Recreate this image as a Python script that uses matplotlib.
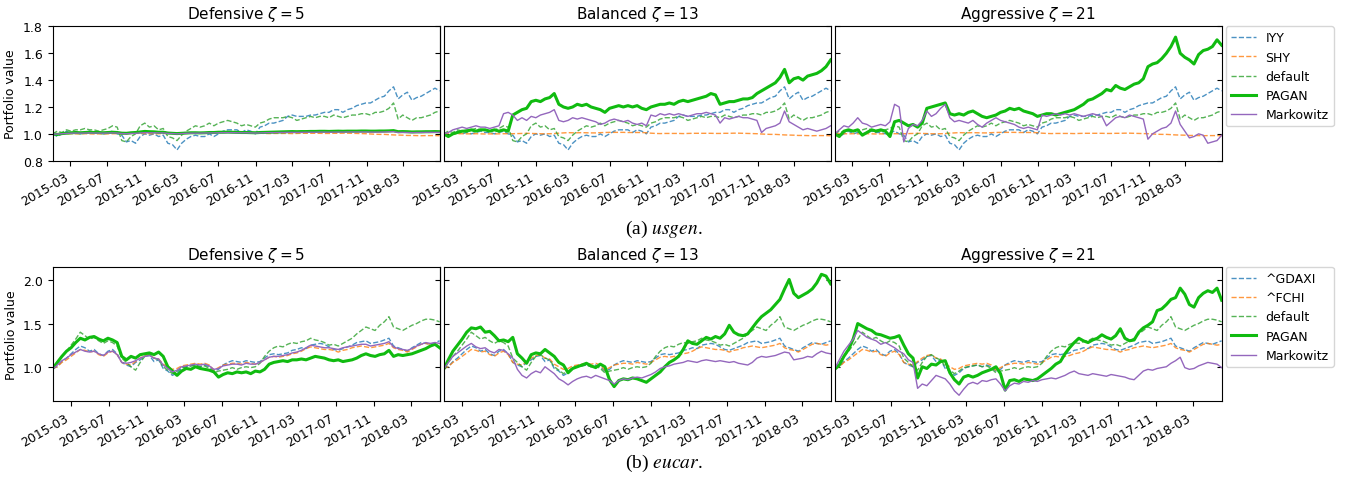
import matplotlib
matplotlib.use('Agg')
import matplotlib.pyplot as plt
import matplotlib.dates as mdates
import numpy as np
import pandas as pd

# ---- usgen (top row) ----
dates_us = pd.date_range('2015-01-02', '2018-06-29', periods=85)

iyy = [1.00, 0.98, 1.00, 1.02, 1.00, 1.01, 1.00, 1.01, 1.02, 1.01,
       1.01, 1.00, 1.01, 1.02, 1.00, 0.99, 0.94, 0.95, 0.93, 0.98,
       1.00, 0.99, 1.00, 0.98, 0.99, 0.93, 0.92, 0.88, 0.93, 0.96,
       0.98, 0.99, 0.98, 0.98, 1.00, 0.98, 1.00, 1.02, 1.03, 1.03,
       1.03, 1.01, 1.03, 1.02, 1.00, 1.05, 1.06, 1.08, 1.08, 1.09,
       1.10, 1.13, 1.14, 1.13, 1.13, 1.13, 1.14, 1.14, 1.15, 1.16,
       1.16, 1.18, 1.18, 1.16, 1.18, 1.19, 1.21, 1.22, 1.23, 1.23,
       1.25, 1.27, 1.28, 1.32, 1.35, 1.26, 1.29, 1.31, 1.25, 1.27,
       1.28, 1.30, 1.32, 1.34, 1.32]
shy = [1.000, 1.002, 1.001, 1.000, 1.001, 1.000, 1.000, 1.001, 1.000, 0.999,
       1.000, 0.999, 1.000, 1.001, 1.001, 1.001, 1.002, 1.003, 1.004, 1.003,
       1.002, 1.001, 1.000, 1.001, 1.002, 1.005, 1.007, 1.009, 1.008, 1.008,
       1.009, 1.008, 1.007, 1.007, 1.009, 1.010, 1.011, 1.011, 1.011, 1.011,
       1.010, 1.010, 1.010, 1.010, 1.008, 1.005, 1.003, 1.002, 1.003, 1.003,
       1.003, 1.003, 1.002, 1.003, 1.004, 1.004, 1.004, 1.004, 1.004, 1.003,
       1.003, 1.004, 1.004, 1.005, 1.005, 1.004, 1.003, 1.002, 1.001, 0.999,
       0.997, 0.996, 0.996, 0.994, 0.992, 0.991, 0.990, 0.988, 0.988, 0.987,
       0.986, 0.987, 0.987, 0.987, 0.986]
default_us = [1.00, 1.02, 1.01, 1.03, 1.02, 1.03, 1.03, 1.04, 1.03, 1.03,
              1.02, 1.03, 1.04, 1.06, 1.05, 0.95, 0.94, 0.98, 1.00, 1.06,
              1.08, 1.05, 1.06, 1.03, 1.04, 0.98, 0.97, 0.95, 0.99, 1.02,
              1.04, 1.06, 1.05, 1.06, 1.08, 1.06, 1.08, 1.09, 1.10, 1.09,
              1.08, 1.06, 1.07, 1.06, 1.05, 1.08, 1.09, 1.11, 1.12, 1.12,
              1.12, 1.13, 1.12, 1.10, 1.11, 1.12, 1.13, 1.12, 1.13, 1.13,
              1.12, 1.14, 1.13, 1.12, 1.13, 1.14, 1.14, 1.15, 1.15, 1.14,
              1.16, 1.16, 1.17, 1.19, 1.23, 1.11, 1.14, 1.12, 1.10, 1.12,
              1.12, 1.13, 1.14, 1.16, 1.17]

pagan_us_def = [1.000, 0.995, 1.002, 1.005, 1.008, 1.010, 1.008, 1.010, 1.012, 1.010,
                1.010, 1.008, 1.010, 1.012, 1.010, 1.005, 1.004, 1.008, 1.010, 1.014,
                1.018, 1.016, 1.015, 1.012, 1.012, 1.006, 1.004, 1.002, 1.004, 1.006,
                1.008, 1.008, 1.007, 1.008, 1.010, 1.010, 1.012, 1.012, 1.013, 1.012,
                1.011, 1.010, 1.010, 1.009, 1.008, 1.010, 1.011, 1.012, 1.013, 1.014,
                1.015, 1.016, 1.017, 1.016, 1.017, 1.017, 1.018, 1.018, 1.019, 1.019,
                1.018, 1.019, 1.020, 1.019, 1.020, 1.020, 1.020, 1.021, 1.021, 1.020,
                1.020, 1.021, 1.021, 1.022, 1.024, 1.016, 1.017, 1.016, 1.014, 1.015,
                1.015, 1.016, 1.016, 1.017, 1.016]
marko_us_def = [1.000, 0.998, 1.001, 1.003, 1.005, 1.006, 1.005, 1.006, 1.007, 1.006,
                1.006, 1.005, 1.006, 1.007, 1.006, 1.002, 1.001, 1.003, 1.004, 1.007,
                1.009, 1.008, 1.008, 1.007, 1.007, 1.003, 1.002, 1.000, 1.002, 1.004,
                1.005, 1.005, 1.005, 1.006, 1.007, 1.007, 1.008, 1.009, 1.009, 1.009,
                1.008, 1.008, 1.008, 1.007, 1.006, 1.007, 1.008, 1.009, 1.009, 1.010,
                1.010, 1.011, 1.011, 1.011, 1.011, 1.012, 1.012, 1.012, 1.013, 1.013,
                1.012, 1.013, 1.013, 1.013, 1.014, 1.014, 1.014, 1.014, 1.014, 1.013,
                1.013, 1.013, 1.014, 1.015, 1.016, 1.010, 1.011, 1.010, 1.009, 1.010,
                1.010, 1.011, 1.011, 1.011, 1.011]

pagan_us_bal = [1.00, 0.98, 1.00, 1.01, 1.02, 1.02, 1.03, 1.02, 1.03, 1.03,
                1.02, 1.03, 1.02, 1.03, 1.02, 1.14, 1.16, 1.18, 1.19, 1.24,
                1.25, 1.24, 1.26, 1.27, 1.30, 1.22, 1.20, 1.19, 1.20, 1.22,
                1.21, 1.22, 1.20, 1.19, 1.18, 1.16, 1.19, 1.20, 1.21, 1.20,
                1.21, 1.20, 1.21, 1.19, 1.18, 1.20, 1.21, 1.22, 1.22, 1.23,
                1.22, 1.24, 1.25, 1.24, 1.25, 1.26, 1.27, 1.28, 1.30, 1.29,
                1.22, 1.23, 1.24, 1.24, 1.25, 1.26, 1.26, 1.27, 1.30, 1.32,
                1.34, 1.36, 1.38, 1.42, 1.48, 1.38, 1.41, 1.42, 1.40, 1.43,
                1.44, 1.45, 1.47, 1.50, 1.55]
marko_us_bal = [1.00, 1.01, 1.03, 1.04, 1.05, 1.04, 1.05, 1.06, 1.05, 1.05,
                1.04, 1.05, 1.06, 1.15, 1.16, 1.14, 1.10, 1.12, 1.10, 1.13,
                1.12, 1.14, 1.15, 1.16, 1.18, 1.10, 1.09, 1.10, 1.12, 1.11,
                1.12, 1.11, 1.10, 1.09, 1.07, 1.08, 1.10, 1.11, 1.10, 1.09,
                1.10, 1.08, 1.07, 1.08, 1.06, 1.14, 1.13, 1.15, 1.14, 1.15,
                1.14, 1.15, 1.14, 1.13, 1.14, 1.15, 1.15, 1.16, 1.15, 1.14,
                1.08, 1.12, 1.11, 1.12, 1.13, 1.12, 1.12, 1.11, 1.10, 1.01,
                1.04, 1.05, 1.06, 1.08, 1.17, 1.09, 1.07, 1.05, 1.03, 1.04,
                1.03, 1.02, 1.03, 1.04, 1.06]

pagan_us_agg = [1.00, 0.98, 1.02, 1.03, 1.02, 1.03, 0.99, 1.01, 1.03, 1.02,
                1.03, 1.02, 0.98, 1.09, 1.10, 1.08, 1.06, 1.07, 1.05, 1.08,
                1.19, 1.20, 1.21, 1.22, 1.23, 1.15, 1.14, 1.15, 1.14, 1.16,
                1.17, 1.15, 1.13, 1.12, 1.13, 1.14, 1.16, 1.17, 1.19, 1.18,
                1.19, 1.17, 1.16, 1.15, 1.13, 1.14, 1.15, 1.15, 1.14, 1.15,
                1.16, 1.17, 1.18, 1.20, 1.22, 1.25, 1.26, 1.28, 1.30, 1.33,
                1.32, 1.36, 1.34, 1.33, 1.35, 1.37, 1.38, 1.41, 1.50, 1.52,
                1.53, 1.56, 1.60, 1.65, 1.72, 1.60, 1.57, 1.55, 1.52, 1.59,
                1.62, 1.63, 1.65, 1.70, 1.66]
marko_us_agg = [1.00, 1.03, 1.06, 1.05, 1.08, 1.12, 1.08, 1.07, 1.05, 1.06,
                1.07, 1.06, 1.09, 1.22, 1.20, 0.94, 1.04, 1.07, 1.06, 1.10,
                1.17, 1.13, 1.15, 1.19, 1.22, 1.12, 1.09, 1.10, 1.09, 1.08,
                1.10, 1.07, 1.05, 1.08, 1.10, 1.12, 1.10, 1.09, 1.08, 1.07,
                1.05, 1.04, 1.05, 1.04, 1.03, 1.14, 1.13, 1.14, 1.15, 1.14,
                1.15, 1.14, 1.15, 1.14, 1.13, 1.14, 1.15, 1.14, 1.13, 1.06,
                1.09, 1.12, 1.13, 1.12, 1.14, 1.13, 1.12, 1.11, 0.96, 1.00,
                1.02, 1.04, 1.05, 1.08, 1.17, 1.07, 1.02, 0.97, 0.98, 1.00,
                0.99, 0.93, 0.94, 0.95, 0.99]

# ---- eucar (bottom row) ----
dates_eu = pd.date_range('2015-01-02', '2018-06-01', periods=85)

gdaxi = [0.98, 1.00, 1.06, 1.10, 1.15, 1.20, 1.24, 1.22, 1.18, 1.20,
         1.15, 1.13, 1.18, 1.20, 1.15, 1.05, 1.02, 1.00, 1.05, 1.08,
         1.12, 1.13, 1.06, 1.08, 0.98, 0.95, 0.90, 0.93, 0.98, 1.00,
         1.01, 1.02, 1.00, 1.02, 1.00, 0.95, 0.97, 1.02, 1.05, 1.07,
         1.06, 1.05, 1.07, 1.06, 1.05, 1.06, 1.10, 1.14, 1.15, 1.14,
         1.15, 1.16, 1.19, 1.20, 1.22, 1.21, 1.25, 1.26, 1.27, 1.26,
         1.23, 1.20, 1.19, 1.21, 1.23, 1.25, 1.28, 1.29, 1.30, 1.27,
         1.28, 1.29, 1.31, 1.33, 1.24, 1.22, 1.20, 1.18, 1.22, 1.25,
         1.28, 1.27, 1.26, 1.28, 1.30]
fchi = [0.98, 1.00, 1.05, 1.08, 1.12, 1.16, 1.20, 1.19, 1.17, 1.18,
        1.14, 1.12, 1.16, 1.18, 1.14, 1.05, 1.03, 1.02, 1.06, 1.10,
        1.13, 1.14, 1.10, 1.09, 1.03, 1.00, 0.97, 0.98, 1.01, 1.02,
        1.03, 1.04, 1.03, 1.04, 1.02, 0.96, 0.99, 1.02, 1.03, 1.04,
        1.04, 1.03, 1.05, 1.04, 1.03, 1.05, 1.08, 1.11, 1.12, 1.11,
        1.12, 1.13, 1.15, 1.16, 1.18, 1.21, 1.23, 1.22, 1.21, 1.20,
        1.20, 1.19, 1.17, 1.19, 1.20, 1.22, 1.23, 1.24, 1.23, 1.22,
        1.23, 1.24, 1.25, 1.27, 1.22, 1.20, 1.19, 1.17, 1.20, 1.23,
        1.26, 1.27, 1.26, 1.25, 1.26]
default_eu = [0.98, 1.05, 1.12, 1.18, 1.25, 1.32, 1.40, 1.36, 1.32, 1.34,
              1.30, 1.27, 1.30, 1.28, 1.24, 1.10, 1.05, 1.00, 0.96, 1.05,
              1.12, 1.14, 1.10, 1.08, 1.00, 0.96, 0.92, 0.95, 0.99, 1.00,
              1.01, 1.02, 1.00, 1.01, 0.98, 0.93, 0.95, 0.96, 0.97, 0.99,
              0.97, 0.99, 1.00, 0.99, 1.00, 1.04, 1.12, 1.18, 1.22, 1.24,
              1.23, 1.26, 1.28, 1.27, 1.29, 1.30, 1.33, 1.31, 1.30, 1.28,
              1.25, 1.26, 1.24, 1.27, 1.30, 1.33, 1.38, 1.42, 1.46, 1.44,
              1.42, 1.48, 1.52, 1.58, 1.46, 1.44, 1.42, 1.45, 1.48, 1.50,
              1.53, 1.55, 1.55, 1.54, 1.52]

pagan_eu_def = [0.98, 1.05, 1.12, 1.18, 1.22, 1.28, 1.33, 1.31, 1.34, 1.35,
                1.32, 1.30, 1.33, 1.31, 1.28, 1.12, 1.08, 1.12, 1.10, 1.14,
                1.15, 1.16, 1.14, 1.17, 1.12, 1.00, 0.95, 0.90, 0.95, 0.98,
                0.97, 1.00, 0.98, 0.97, 0.96, 0.94, 0.88, 0.91, 0.93, 0.92,
                0.94, 0.93, 0.94, 0.92, 0.95, 0.94, 0.97, 1.03, 1.05, 1.06,
                1.07, 1.06, 1.08, 1.08, 1.09, 1.08, 1.10, 1.12, 1.11, 1.10,
                1.08, 1.07, 1.08, 1.06, 1.07, 1.08, 1.10, 1.13, 1.15, 1.13,
                1.12, 1.14, 1.15, 1.19, 1.12, 1.14, 1.13, 1.14, 1.15, 1.17,
                1.19, 1.21, 1.24, 1.26, 1.22]
marko_eu_def = [0.97, 1.02, 1.07, 1.10, 1.14, 1.17, 1.20, 1.18, 1.17, 1.18,
                1.15, 1.13, 1.17, 1.18, 1.14, 1.05, 1.04, 1.05, 1.07, 1.10,
                1.12, 1.13, 1.10, 1.09, 1.02, 0.98, 0.94, 0.96, 1.00, 1.01,
                1.02, 1.03, 1.02, 1.03, 1.01, 0.97, 0.98, 1.01, 1.02, 1.03,
                1.03, 1.02, 1.04, 1.03, 1.03, 1.05, 1.08, 1.11, 1.12, 1.12,
                1.13, 1.14, 1.16, 1.17, 1.19, 1.22, 1.25, 1.24, 1.23, 1.22,
                1.22, 1.21, 1.20, 1.22, 1.23, 1.24, 1.25, 1.26, 1.26, 1.24,
                1.25, 1.26, 1.27, 1.29, 1.23, 1.21, 1.20, 1.19, 1.21, 1.24,
                1.26, 1.28, 1.27, 1.28, 1.27]

pagan_eu_bal = [0.97, 1.08, 1.18, 1.25, 1.32, 1.40, 1.45, 1.44, 1.46, 1.40,
                1.41, 1.36, 1.30, 1.31, 1.29, 1.34, 1.15, 1.10, 1.04, 1.14,
                1.16, 1.15, 1.20, 1.16, 1.12, 1.05, 1.02, 0.93, 0.98, 1.00,
                1.02, 1.04, 1.01, 0.99, 1.03, 1.00, 0.85, 0.77, 0.84, 0.86,
                0.85, 0.87, 0.86, 0.84, 0.82, 0.86, 0.90, 0.94, 1.00, 1.05,
                1.08, 1.12, 1.20, 1.30, 1.27, 1.26, 1.30, 1.34, 1.32, 1.35,
                1.33, 1.38, 1.48, 1.40, 1.37, 1.36, 1.38, 1.45, 1.52, 1.58,
                1.62, 1.66, 1.72, 1.78, 1.90, 2.01, 1.85, 1.80, 1.83, 1.86,
                1.90, 1.97, 2.07, 2.05, 1.96]
marko_eu_bal = [0.97, 1.05, 1.12, 1.16, 1.20, 1.24, 1.27, 1.23, 1.21, 1.22,
                1.18, 1.16, 1.20, 1.19, 1.15, 1.10, 0.97, 0.90, 0.87, 0.92,
                0.95, 0.93, 1.00, 0.96, 0.92, 0.86, 0.83, 0.79, 0.83, 0.86,
                0.88, 0.89, 0.87, 0.90, 0.88, 0.86, 0.84, 0.80, 0.84, 0.86,
                0.85, 0.87, 0.88, 0.87, 0.89, 0.91, 0.94, 0.98, 1.00, 1.01,
                1.03, 1.04, 1.05, 1.07, 1.06, 1.05, 1.07, 1.08, 1.07, 1.06,
                1.07, 1.06, 1.05, 1.06, 1.04, 1.03, 1.02, 1.05, 1.10, 1.12,
                1.11, 1.12, 1.13, 1.15, 1.17, 1.16, 1.08, 1.09, 1.10, 1.12,
                1.11, 1.15, 1.18, 1.16, 1.15]

pagan_eu_agg = [0.97, 1.02, 1.12, 1.20, 1.32, 1.50, 1.47, 1.44, 1.42, 1.38,
                1.37, 1.35, 1.33, 1.34, 1.36, 1.25, 1.15, 1.10, 0.87, 1.00,
                0.98, 1.03, 1.02, 1.06, 1.07, 0.93, 0.85, 0.80, 0.88, 0.90,
                0.88, 0.90, 0.93, 0.95, 0.97, 1.00, 0.92, 0.73, 0.84, 0.85,
                0.83, 0.86, 0.85, 0.84, 0.86, 0.90, 0.94, 0.98, 1.03, 1.06,
                1.15, 1.22, 1.28, 1.33, 1.30, 1.28, 1.31, 1.33, 1.37, 1.34,
                1.32, 1.36, 1.44, 1.33, 1.30, 1.31, 1.40, 1.45, 1.48, 1.52,
                1.65, 1.67, 1.72, 1.78, 1.80, 1.91, 1.84, 1.72, 1.69, 1.80,
                1.85, 1.88, 1.86, 1.91, 1.77]
marko_eu_agg = [0.98, 1.08, 1.18, 1.25, 1.32, 1.42, 1.38, 1.34, 1.32, 1.30,
                1.26, 1.28, 1.25, 1.22, 1.18, 1.15, 1.08, 1.05, 0.75, 0.80,
                0.78, 0.84, 0.90, 0.88, 0.86, 0.80, 0.72, 0.67, 0.74, 0.80,
                0.82, 0.80, 0.84, 0.83, 0.85, 0.86, 0.80, 0.72, 0.78, 0.81,
                0.80, 0.83, 0.82, 0.84, 0.83, 0.85, 0.86, 0.87, 0.86, 0.88,
                0.90, 0.93, 0.95, 0.92, 0.91, 0.90, 0.92, 0.91, 0.90, 0.89,
                0.91, 0.90, 0.89, 0.88, 0.86, 0.85, 0.90, 0.95, 0.97, 0.96,
                0.98, 0.99, 1.00, 1.04, 1.07, 1.11, 0.99, 0.97, 0.98, 1.01,
                1.03, 1.05, 1.04, 1.03, 0.99]

titles = [r'Defensive $\zeta = 5$', r'Balanced $\zeta = 13$', r'Aggressive $\zeta = 21$']
pagan_green = '#10bb10'

fig = plt.figure(figsize=(13.61, 4.89), dpi=100)

lefts = [0.0387, 0.3260, 0.6133]
width = 0.2843


def plot_row(bottom, dates, bench, bench_names, pagan, marko, ylim, yticks):
    axes = []
    for k in range(3):
        ax = fig.add_axes([lefts[k], bottom, width, 0.2747])
        for vals, name, col in zip(bench, bench_names, ['tab:blue', 'tab:orange', 'tab:green']):
            ax.plot(dates, vals, '--', color=col, lw=1.0, alpha=0.8, label=name)
        ax.plot(dates, pagan[k], '-', color=pagan_green, lw=2.2, label='PAGAN')
        ax.plot(dates, marko[k], '-', color='tab:purple', lw=1.0, label='Markowitz')
        ax.set_xlim(dates[0], dates[-1])
        ax.set_ylim(*ylim)
        ax.set_yticks(yticks)
        ax.set_title(titles[k], fontsize=11)
        ax.xaxis.set_major_locator(mdates.MonthLocator(bymonth=[3, 7, 11]))
        ax.xaxis.set_major_formatter(mdates.DateFormatter('%Y-%m'))
        for lab in ax.get_xticklabels():
            lab.set_rotation(30)
            lab.set_ha('right')
        ax.tick_params(axis='x', labelsize=9)
        if k == 0:
            ax.set_ylabel('Portfolio value', fontsize=9)
            ax.tick_params(axis='y', direction='out', labelsize=9)
            sec = ax.secondary_yaxis('right')
            sec.set_yticks(yticks)
            sec.tick_params(direction='in', labelright=False)
        else:
            ax.tick_params(axis='y', direction='in', right=True, labelleft=False)
        axes.append(ax)
    axes[2].legend(loc='upper left', bbox_to_anchor=(1.01, 1.0), borderaxespad=0, fontsize=9)
    return axes


plot_row(0.6693, dates_us, [iyy, shy, default_us], ['IYY', 'SHY', 'default'],
         [pagan_us_def, pagan_us_bal, pagan_us_agg],
         [marko_us_def, marko_us_bal, marko_us_agg],
         (0.8, 1.8), [0.8, 1.0, 1.2, 1.4, 1.6, 1.8])
plot_row(0.1773, dates_eu, [gdaxi, fchi, default_eu], ['^GDAXI', '^FCHI', 'default'],
         [pagan_eu_def, pagan_eu_bal, pagan_eu_agg],
         [marko_eu_def, marko_eu_bal, marko_eu_agg],
         (0.60, 2.155), [1.0, 1.5, 2.0])

# sub-figure captions
fig.text(0.488, 0.5317, r'(a) $\mathit{usgen}$.', ha='center', va='center',
         fontsize=14, family='Liberation Serif', math_fontfamily='stix')
fig.text(0.488, 0.0532, r'(b) $\mathit{eucar}$.', ha='center', va='center',
         fontsize=14, family='Liberation Serif', math_fontfamily='stix')

fig.savefig('out.png', dpi=100)
